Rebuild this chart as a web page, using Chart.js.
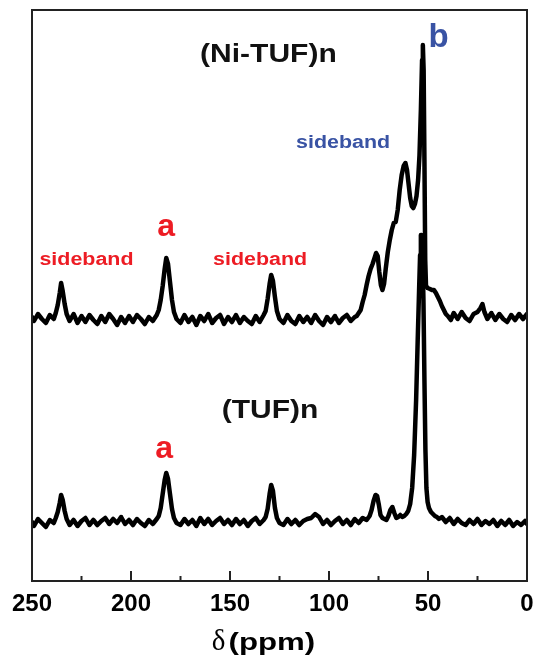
<!DOCTYPE html>
<html lang="en">
<head>
<meta charset="UTF-8">
<title>13C NMR (Ni-TUF)n / (TUF)n</title>
<script src="https://cdn.jsdelivr.net/npm/chart.js"></script>
<style>
  html, body { margin: 0; padding: 0; background: #fff; }
  #wrap { position: relative; width: 534px; height: 658px; }
</style>
</head>
<body>
<div id="wrap"><canvas id="nmr"></canvas></div>
<script>
    // chemical shift axis (ppm), reversed like the original
    const tickLabels = [250, 200, 150, 100, 50, 0];
    const minorTicks = [225, 175, 125, 75, 25];

    // (Ni-TUF)n trace: shift and intensity (arbitrary units, offset spectrum)
    const niPpm = [
        250, 249, 247, 245, 243, 241, 239, 238, 237, 236,
        235.3, 234.5, 233.5, 232.5, 231, 229, 227, 225, 223, 221,
        219, 217, 215, 213, 211, 209, 207, 205, 203, 201,
        199, 197, 195, 193, 191, 189, 187, 186, 185, 184,
        183, 182.2, 181.3, 180.3, 179.3, 178.3, 177, 175, 173, 171,
        169, 167, 165, 163, 161, 159, 157, 155, 153, 151,
        149, 147, 145, 143, 141, 139, 137, 135, 133, 132,
        131, 130, 129.2, 128.3, 127.3, 126.3, 125, 123, 121, 119,
        117, 115, 113, 111, 109, 107, 105, 103, 101, 99,
        97, 95, 93, 91, 89, 87, 86, 85, 84, 83,
        82, 81, 80, 79, 78, 77, 76.2, 75.4, 74.6, 73.8,
        73, 72.2, 71.3, 70.3, 69.3, 68.3, 67.3, 66.3, 65.3, 64.3,
        63.3, 62.3, 61.4, 60.6, 59.8, 59, 58.2, 57.4, 56.6, 55.8,
        55, 54.3, 53.6, 53, 52.6, 52.2, 51.8, 51.4, 51, 50.2,
        49, 48, 47, 46, 45, 44, 43, 42, 41, 40,
        38.5, 37, 35, 33, 31, 29, 27, 25, 23.5, 22.5,
        21.5, 20, 18, 16, 14, 12, 10, 8, 6, 4,
        2, 0
    ];
    const niInt = [
        263, 259, 266, 261, 257, 265, 261, 267, 275, 287,
        297, 289, 276, 266, 259, 266, 257, 264, 258, 265,
        260, 256, 264, 258, 266, 261, 255, 263, 257, 264,
        258, 265, 261, 256, 263, 259, 265, 270, 280, 294,
        311, 322, 316, 298, 280, 268, 261, 257, 265, 258,
        263, 255, 264, 259, 266, 257, 262, 265, 256, 263,
        258, 265, 257, 263, 259, 256, 264, 258, 265, 269,
        281, 296, 305, 299, 283, 269, 261, 257, 265, 259,
        256, 264, 258, 263, 257, 265, 259, 255, 263, 258,
        264, 257, 262, 265, 259, 263, 264, 267, 270, 278,
        285, 295, 304, 311, 316, 322, 327, 324, 308, 295,
        290, 296, 312, 328, 340, 350, 357, 358, 370, 390,
        405, 414, 417, 410, 396, 382, 374, 372, 376, 384,
        400, 425, 470, 520, 535, 510, 420, 320, 294, 292,
        291, 290, 290, 287, 283, 279, 274, 270, 266, 264,
        260, 267, 261, 268, 262, 259, 266, 268, 272, 276,
        268, 261, 267, 260, 266, 261, 258, 265, 260, 266,
        261, 266
    ];

    // (TUF)n trace
    const tufPpm = [
        250, 249, 247, 245, 243, 241, 239, 238, 237, 236,
        235.3, 234.5, 233.5, 232.5, 231, 229, 227, 225, 223, 221,
        219, 217, 215, 213, 211, 209, 207, 205, 203, 201,
        199, 197, 195, 193, 191, 189, 187, 186, 185, 184,
        183, 182.2, 181.3, 180.3, 179.3, 178.3, 177, 175, 173, 171,
        169, 167, 165, 163, 161, 159, 157, 155, 153, 151,
        149, 147, 145, 143, 141, 139, 137, 135, 133, 132,
        131, 130, 129.2, 128.3, 127.3, 126.3, 125, 123, 121, 119,
        117, 115, 113, 111, 109, 107, 105, 103, 101, 99,
        97, 95, 93, 91, 89, 87, 85, 83, 81, 79.5,
        78.5, 77.5, 76.5, 75.7, 74.8, 74, 73, 72, 71, 70,
        69, 68, 67, 66, 65, 64, 63, 62, 61, 60,
        59, 58, 57, 56, 55.2, 54.5, 54, 53.6, 53.2, 52.8,
        52.3, 51.8, 51.3, 50.8, 50.2, 49.5, 48.5, 47.5, 46.5, 45.5,
        44.5, 43, 41, 39, 37, 35, 33, 31, 29, 27,
        25, 23, 21, 19, 17, 15, 13, 11, 9, 7,
        5, 3, 1, 0
    ];
    const tufInt = [
        58, 54, 61, 57, 53, 60, 57, 62, 68, 77,
        85, 80, 69, 61, 55, 60, 54, 59, 62, 55,
        60, 55, 59, 62, 56, 61, 57, 63, 56, 60,
        55, 61, 57, 54, 60, 56, 61, 64, 72, 86,
        100, 107, 101, 86, 71, 62, 57, 55, 61, 56,
        60, 54, 62, 56, 61, 55, 59, 62, 56, 60,
        55, 61, 56, 60, 54, 59, 62, 56, 60, 63,
        71, 86, 95, 89, 72, 62, 57, 55, 61, 56,
        60, 55, 59, 61, 62, 66, 63, 56, 60, 55,
        59, 62, 56, 60, 55, 61, 57, 62, 60, 64,
        70, 79, 85, 84, 75, 65, 62, 61, 60, 64,
        70, 73, 67, 62, 63, 65, 63, 64, 66, 69,
        76, 92, 125, 180, 240, 290, 325, 345, 345, 330,
        280, 200, 130, 92, 78, 72, 68, 66, 64, 63,
        61, 63, 58, 62, 56, 61, 57, 55, 60, 56,
        61, 55, 59, 56, 60, 54, 59, 55, 60, 54,
        58, 55, 59, 56
    ];

    // annotations anchored in data coordinates: text, ppm, intensity, style
    const notes = [
        ['(Ni-TUF)n', 130.6, 518, 'sample'],
        ['(TUF)n', 129.8, 162, 'sample'],
        ['b', 44.7, 533, 'blueLetter'],
        ['sideband', 92.9, 432, 'blueSide'],
        ['a', 182.3, 344, 'redLetter'],
        ['a', 183.3, 122, 'redLetter'],
        ['sideband', 222.5, 315, 'redSide'],
        ['sideband', 134.8, 315, 'redSide']
    ];

    const RED = '#ed1c24';
    const BLUE = '#3953a4';
    const SANS = '"Liberation Sans", Arial, sans-serif';
    const SERIF = '"Liberation Serif", "Times New Roman", serif';
    const noteStyle = {
        sample: { font: 'bold 25px ' + SANS, color: '#111', stretch: 1.2 },
        blueLetter: { font: 'bold 33px ' + SANS, color: BLUE, stretch: 1 },
        redLetter: { font: 'bold 32px ' + SANS, color: RED, stretch: 1 },
        blueSide: { font: 'bold 18px ' + SANS, color: BLUE, stretch: 1.19 },
        redSide: { font: 'bold 18px ' + SANS, color: RED, stretch: 1.19 }
    };

    const toPoints = (xs, ys) => xs.map((v, i) => ({ x: v, y: ys[i] }));

    // frame, inward ticks, tick labels, notes and axis title
    const decor = {
        id: 'decor',
        afterDatasetsDraw(chart) {
            const { ctx, chartArea: a, scales: { x, y } } = chart;
            ctx.save();
            ctx.strokeStyle = '#222';
            ctx.lineWidth = 2;
            ctx.strokeRect(a.left, a.top, a.right - a.left, a.bottom - a.top);

            ctx.beginPath();
            tickLabels.forEach(v => {
                const px = x.getPixelForValue(v);
                ctx.moveTo(px, a.bottom);
                ctx.lineTo(px, a.bottom - 10);
            });
            minorTicks.forEach(v => {
                const px = x.getPixelForValue(v);
                ctx.moveTo(px, a.bottom);
                ctx.lineTo(px, a.bottom - 5);
            });
            ctx.stroke();

            // tick labels
            ctx.fillStyle = '#000';
            ctx.textAlign = 'center';
            ctx.textBaseline = 'alphabetic';
            ctx.font = 'bold 24px ' + SANS;
            tickLabels.forEach(v => {
                ctx.fillText(String(v), x.getPixelForValue(v), a.bottom + 30);
            });

            notes.forEach(([text, ppm, val, kind]) => {
                const s = noteStyle[kind];
                ctx.save();
                ctx.font = s.font;
                ctx.fillStyle = s.color;
                ctx.translate(x.getPixelForValue(ppm), y.getPixelForValue(val));
                ctx.scale(s.stretch, 1);
                ctx.fillText(text, 0, 0);
                ctx.restore();
            });

            // axis title: delta in serif, unit in bold sans
            const cx = (a.left + a.right) / 2 - 16;
            const base = chart.height - 8;
            ctx.textAlign = 'left';
            ctx.fillStyle = '#000';
            ctx.font = '29px ' + SERIF;
            const dW = ctx.measureText('δ').width;
            ctx.font = 'bold 24px ' + SANS;
            const uW = ctx.measureText('(ppm)').width * 1.3;
            const start = cx - (dW + 3 + uW) / 2;
            ctx.font = '29px ' + SERIF;
            ctx.fillText('δ', start, base);
            ctx.save();
            ctx.font = 'bold 24px ' + SANS;
            ctx.translate(start + dW + 3, base);
            ctx.scale(1.3, 1);
            ctx.fillText('(ppm)', 0, 0);
            ctx.restore();
            ctx.restore();
        }
    };

    const line = {
        borderColor: '#000',
        borderWidth: 4.5,
        pointRadius: 0,
        tension: 0,
        borderJoinStyle: 'round',
        borderCapStyle: 'round'
    };

    new Chart(document.getElementById('nmr'), {
        type: 'line',
        data: {
            datasets: [
                Object.assign({ label: '(Ni-TUF)n', data: toPoints(niPpm, niInt) }, line),
                Object.assign({ label: '(TUF)n', data: toPoints(tufPpm, tufInt) }, line)
            ]
        },
        options: {
            responsive: true,
            maintainAspectRatio: false,
            animation: false,
            layout: { padding: { left: 32, right: 7, top: 10, bottom: 0 } },
            plugins: {
                legend: { display: false },
                tooltip: { enabled: false }
            },
            scales: {
                x: {
                    type: 'linear',
                    min: 0,
                    max: 250,
                    reverse: true,
                    grid: { display: false, drawTicks: false },
                    border: { display: false },
                    afterBuildTicks: s => { s.ticks = tickLabels.map(v => ({ value: v })); },
                    afterFit: s => { s.height = 77; },
                    ticks: { display: false }
                },
                y: {
                    display: false,
                    min: -1,
                    max: 570
                }
            }
        },
        plugins: [decor]
    });
</script>
</body>
</html>
